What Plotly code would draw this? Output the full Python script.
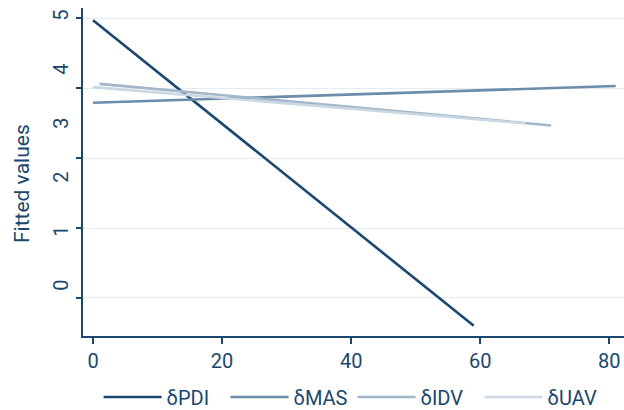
import plotly.graph_objects as go

# Data
series_names = ["δPDI", "δMAS", "δIDV", "δUAV"]
pdi_x = [0, 59]
pdi_y = [4.96, -0.70]
mas_x = [0, 81]
mas_y = [3.43, 3.74]
idv_x = [1, 71]
idv_y = [3.78, 3.01]
uav_x = [0, 67]
uav_y = [3.72, 3.05]

x_ticks = [0, 20, 40, 60, 80]
y_label_ticks = [0, 1, 2, 3, 4, 5]
grid_ticks = [0, 1, 2, 3, 4]
y_title = "Fitted values"

colors = ["#1a476f", "#6b8cab", "#a2b6ca", "#cbd7e3"]
navy = "#1a476f"
FONT = "Roboto"

fig = go.Figure()
for name, xs, ys, c in zip(series_names, [pdi_x, mas_x, idv_x, uav_x],
                           [pdi_y, mas_y, idv_y, uav_y], colors):
    fig.add_trace(go.Scatter(x=xs, y=ys, mode="lines", name=name,
                             line=dict(color=c, width=2.6)))

# invisible trace to activate the grid axis
fig.add_trace(go.Scatter(x=[0], y=[0], yaxis="y2", mode="markers",
                         marker=dict(opacity=0), showlegend=False, hoverinfo="skip"))

fig.add_annotation(text=y_title, xref="paper", yref="paper", x=-0.113, y=0.466,
                   xanchor="center", yanchor="middle", textangle=-90, showarrow=False,
                   font=dict(family=FONT, size=21, color=navy))

fig.update_layout(
    width=624, height=410,
    margin=dict(l=83, r=0, t=8, b=74, autoexpand=False),
    paper_bgcolor="white", plot_bgcolor="white",
    font=dict(family=FONT, size=20, color=navy),
    showlegend=True,
    legend=dict(orientation="h", xref="container", yref="paper",
                x=0.158, y=-0.186, xanchor="left", yanchor="middle",
                font=dict(size=20, color=navy), itemwidth=58,
                entrywidth=54, traceorder="normal"),
    xaxis=dict(range=[-1.55, 82.28], tickvals=x_ticks, ticks="outside", ticklen=6,
               tickcolor=navy, tickwidth=1.5, showline=True, linecolor=navy,
               linewidth=1.6, showgrid=False, zeroline=False, automargin=False,
               tickfont=dict(size=20, color=navy)),
    yaxis=dict(range=[-0.889, 5.185], tickvals=y_label_ticks, ticks="",
               tickangle=-90, showline=True, linecolor=navy, linewidth=1.6,
               showgrid=False, zeroline=False, ticklabelstandoff=5, automargin=False,
               tickfont=dict(size=20, color=navy)),
    yaxis2=dict(range=[-0.543, 4.143], tickvals=grid_ticks, overlaying="y", side="left",
                showticklabels=False, ticks="outside", ticklen=6, tickcolor=navy,
                tickwidth=1.5, showgrid=True, gridcolor="#e4ebf3", gridwidth=1,
                showline=False, zeroline=False, automargin=False),
)

fig.write_html("out.html", post_script="document.body.style.margin='0px';",
               config={"displayModeBar": False})
